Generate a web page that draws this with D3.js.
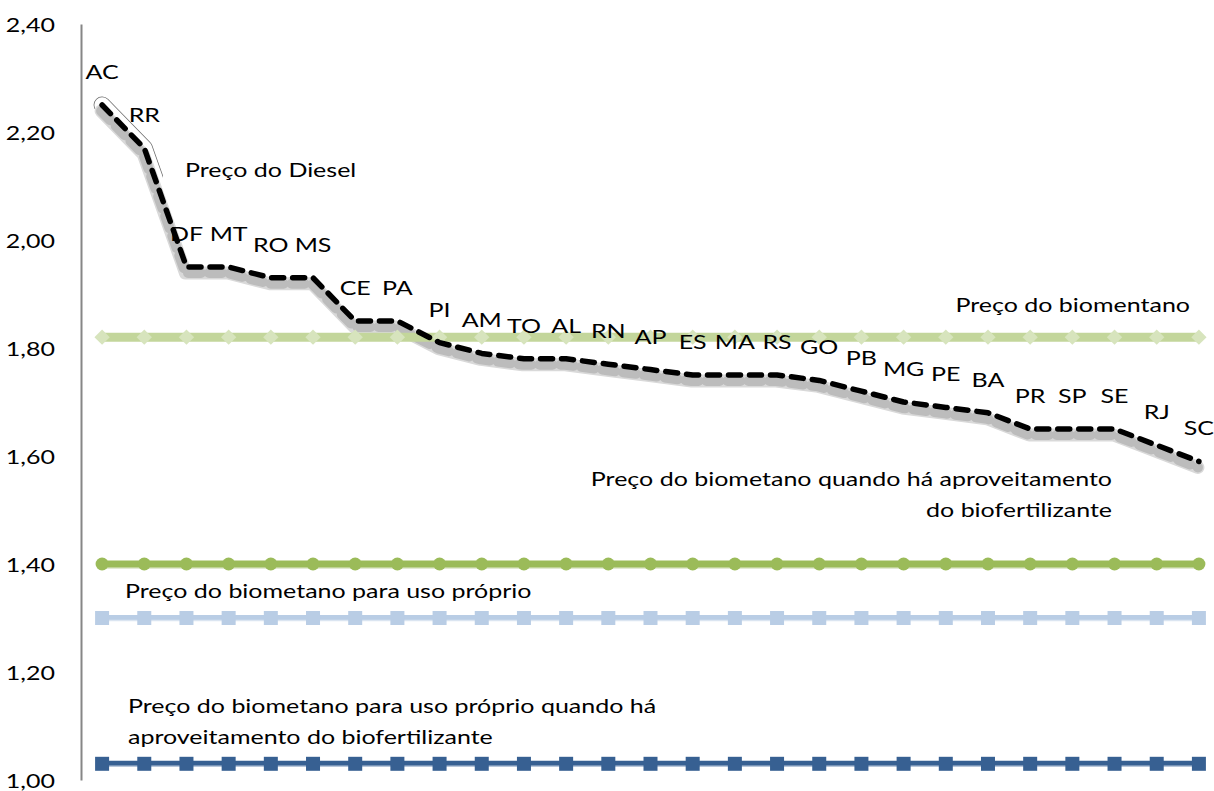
<!DOCTYPE html>
<html lang="pt">
<head>
<meta charset="utf-8">
<title>Preço do diesel e do biometano por estado</title>
<script src="https://cdn.jsdelivr.net/npm/d3@7"></script>
<style>
  html, body { margin: 0; padding: 0; background: #ffffff; }
  svg { display: block; }
  text { font-family: Lato, "Open Sans", sans-serif; fill: #000000; }
</style>
</head>
<body>
<div id="chart"></div>
<script>
// Unidades da federação, ordenadas pelo preço do diesel
const states = ["AC","RR","DF","MT","RO","MS","CE","PA","PI","AM","TO","AL","RN","AP",
                "ES","MA","RS","GO","PB","MG","PE","BA","PR","SP","SE","RJ","SC"];

// Preço do diesel por estado
const dieselPrice = [2.25, 2.17, 1.95, 1.95, 1.93, 1.93, 1.85, 1.85, 1.81, 1.79, 1.78, 1.78, 1.77, 1.76,
                     1.75, 1.75, 1.75, 1.74, 1.72, 1.70, 1.69, 1.68, 1.65, 1.65, 1.65, 1.62, 1.59];

// Preço do biometano
const biomethanePrice = [1.82, 1.82, 1.82, 1.82, 1.82, 1.82, 1.82, 1.82, 1.82, 1.82, 1.82, 1.82, 1.82, 1.82,
                         1.82, 1.82, 1.82, 1.82, 1.82, 1.82, 1.82, 1.82, 1.82, 1.82, 1.82, 1.82, 1.82];

// Preço do biometano quando há aproveitamento do biofertilizante
const biomethaneFertPrice = [1.40, 1.40, 1.40, 1.40, 1.40, 1.40, 1.40, 1.40, 1.40, 1.40, 1.40, 1.40, 1.40, 1.40,
                             1.40, 1.40, 1.40, 1.40, 1.40, 1.40, 1.40, 1.40, 1.40, 1.40, 1.40, 1.40, 1.40];

// Preço do biometano para uso próprio
const ownUsePrice = [1.30, 1.30, 1.30, 1.30, 1.30, 1.30, 1.30, 1.30, 1.30, 1.30, 1.30, 1.30, 1.30, 1.30,
                     1.30, 1.30, 1.30, 1.30, 1.30, 1.30, 1.30, 1.30, 1.30, 1.30, 1.30, 1.30, 1.30];

// Preço do biometano para uso próprio quando há aproveitamento do biofertilizante
const ownUseFertPrice = [1.03, 1.03, 1.03, 1.03, 1.03, 1.03, 1.03, 1.03, 1.03, 1.03, 1.03, 1.03, 1.03, 1.03,
                         1.03, 1.03, 1.03, 1.03, 1.03, 1.03, 1.03, 1.03, 1.03, 1.03, 1.03, 1.03, 1.03];

// Eixo vertical
const yTicks = [1.00, 1.20, 1.40, 1.60, 1.80, 2.00, 2.20, 2.40];
const yDomain = [1.00, 2.40];

// Rótulos das séries
const seriesLabels = [
  ["Preço do Diesel"],
  ["Preço do biomentano"],
  ["Preço do biometano quando há aproveitamento", "do biofertilizante"],
  ["Preço do biometano para uso próprio"],
  ["Preço do biometano para uso próprio quando há", "aproveitamento do biofertilizante"]
];

// ---- layout ----
const W = 1214, H = 791;
const plot = { left: 81, right: 1220, top: 24, bottom: 780 };
const FONT_SIZE = 20;
const TEXT_SX = 1.25;      // texto levemente alargado na horizontal
const LINE_GAP = 31;

// posição (px) e alinhamento de cada rótulo de série
const labelLayout = [
  { x: 185,  y: 177, anchor: "start" },
  { x: 1190, y: 312, anchor: "end" },
  { x: 1112, y: 486, anchor: "end" },
  { x: 125,  y: 598, anchor: "start" },
  { x: 128,  y: 713, anchor: "start" }
];

const svg = d3.select("#chart").append("svg")
  .attr("width", W).attr("height", H);

const defs = svg.append("defs");
defs.append("clipPath").attr("id", "headClip")
  .append("rect").attr("x", 0).attr("y", 0).attr("width", 163).attr("height", 182);

const x = d3.scalePoint().domain(states).range([plot.left, plot.right]).padding(0.5);
const y = d3.scaleLinear().domain(yDomain).range([plot.bottom, plot.top]);

// texto com alargamento horizontal
function stretchedText(sel, tx, ty, str, anchor) {
  return sel.append("text")
    .attr("transform", `translate(${tx},${ty}) scale(${TEXT_SX},1)`)
    .attr("text-anchor", anchor)
    .attr("font-size", FONT_SIZE)
    .text(str);
}

// eixo Y: só a linha do eixo e os rótulos
const yAxis = d3.axisLeft(y).tickValues(yTicks).tickSize(0).tickFormat(() => "");
const axisG = svg.append("g").attr("transform", `translate(${plot.left},0)`).call(yAxis);
axisG.select(".domain").attr("stroke", "#868686").attr("stroke-width", 2);
const tickLabels = svg.append("g");
yTicks.forEach(v => {
  stretchedText(tickLabels, 55, y(v) + 8, d3.format(".2f")(v).replace(".", ","), "end");
});

const lineOf = d3.line().x((d, i) => x(states[i])).y(d => y(d));
const dieselLine = d3.line().x((d, i) => x(states[i])).y(d => y(d));

// realce no início da curva do diesel
const head = svg.append("g").attr("clip-path", "url(#headClip)");
head.append("path").datum(dieselPrice).attr("d", dieselLine)
  .attr("fill", "none").attr("stroke", "#6b6b6b").attr("stroke-width", 17)
  .attr("stroke-linecap", "round").attr("stroke-linejoin", "round");
head.append("path").datum(dieselPrice).attr("d", dieselLine)
  .attr("fill", "none").attr("stroke", "#ffffff").attr("stroke-width", 15.5)
  .attr("stroke-linecap", "round").attr("stroke-linejoin", "round");

// sombra da curva do diesel (duas camadas para um contorno suave)
const shadow = svg.append("g").attr("transform", "translate(-1,6)");
shadow.append("path").datum(dieselPrice).attr("d", dieselLine)
  .attr("fill", "none").attr("stroke", "#d9d9d9").attr("stroke-width", 13)
  .attr("stroke-linecap", "round").attr("stroke-linejoin", "round");
shadow.append("path").datum(dieselPrice).attr("d", dieselLine)
  .attr("fill", "none").attr("stroke", "#bcbcbc").attr("stroke-width", 10)
  .attr("stroke-linecap", "round").attr("stroke-linejoin", "round")
  .attr("stroke-dasharray", "13 8");

// Preço do biometano (losangos)
svg.append("path").datum(biomethanePrice).attr("d", lineOf)
  .attr("fill", "none").attr("stroke", "#c3d69b").attr("stroke-width", 9);
svg.append("g").selectAll("path").data(biomethanePrice).join("path")
  .attr("d", d3.symbol(d3.symbolDiamond2, 150))
  .attr("transform", (d, i) => `translate(${x(states[i])},${y(d)})`)
  .attr("fill", "#d7e4bd");

// Preço do biometano com biofertilizante (círculos)
svg.append("path").datum(biomethaneFertPrice).attr("d", lineOf)
  .attr("transform", "translate(0,3)")
  .attr("fill", "none").attr("stroke", "#e2ead2").attr("stroke-width", 4);
svg.append("path").datum(biomethaneFertPrice).attr("d", lineOf)
  .attr("fill", "none").attr("stroke", "#9bbb59").attr("stroke-width", 7);
svg.append("g").selectAll("circle").data(biomethaneFertPrice).join("circle")
  .attr("cx", (d, i) => x(states[i])).attr("cy", d => y(d)).attr("r", 6.5)
  .attr("fill", "#9bbb59");

// Preço para uso próprio (quadrados claros)
svg.append("path").datum(ownUsePrice).attr("d", lineOf)
  .attr("fill", "none").attr("stroke", "#b9cde5").attr("stroke-width", 6);
svg.append("path").datum(ownUsePrice).attr("d", lineOf)
  .attr("transform", "translate(0,2.5)")
  .attr("fill", "none").attr("stroke", "#dbe5f1").attr("stroke-width", 1.5);
svg.append("g").selectAll("rect").data(ownUsePrice).join("rect")
  .attr("x", (d, i) => x(states[i]) - 7).attr("y", d => y(d) - 7)
  .attr("width", 14).attr("height", 14).attr("fill", "#b9cde5");

// Preço para uso próprio com biofertilizante (quadrados escuros)
svg.append("path").datum(ownUseFertPrice).attr("d", lineOf)
  .attr("fill", "none").attr("stroke", "#376092").attr("stroke-width", 6);
svg.append("path").datum(ownUseFertPrice).attr("d", lineOf)
  .attr("transform", "translate(0,2.5)")
  .attr("fill", "none").attr("stroke", "#b7c6da").attr("stroke-width", 1.5);
svg.append("g").selectAll("rect").data(ownUseFertPrice).join("rect")
  .attr("x", (d, i) => x(states[i]) - 7).attr("y", d => y(d) - 7)
  .attr("width", 14).attr("height", 14).attr("fill", "#376092");

// Preço do diesel (tracejado)
svg.append("path").datum(dieselPrice).attr("d", dieselLine)
  .attr("fill", "none").attr("stroke", "#000000").attr("stroke-width", 5.5)
  .attr("stroke-linecap", "round").attr("stroke-linejoin", "round")
  .attr("stroke-dasharray", "12 9");

// rótulos dos estados
const stateLabels = svg.append("g");
dieselPrice.forEach((v, i) => {
  stretchedText(stateLabels, x(states[i]), y(v) - 26, states[i], "middle");
});

// rótulos das séries
const seriesG = svg.append("g");
seriesLabels.forEach((lines, k) => {
  const L = labelLayout[k];
  lines.forEach((str, j) => stretchedText(seriesG, L.x, L.y + j * LINE_GAP, str, L.anchor));
});
</script>
</body>
</html>
